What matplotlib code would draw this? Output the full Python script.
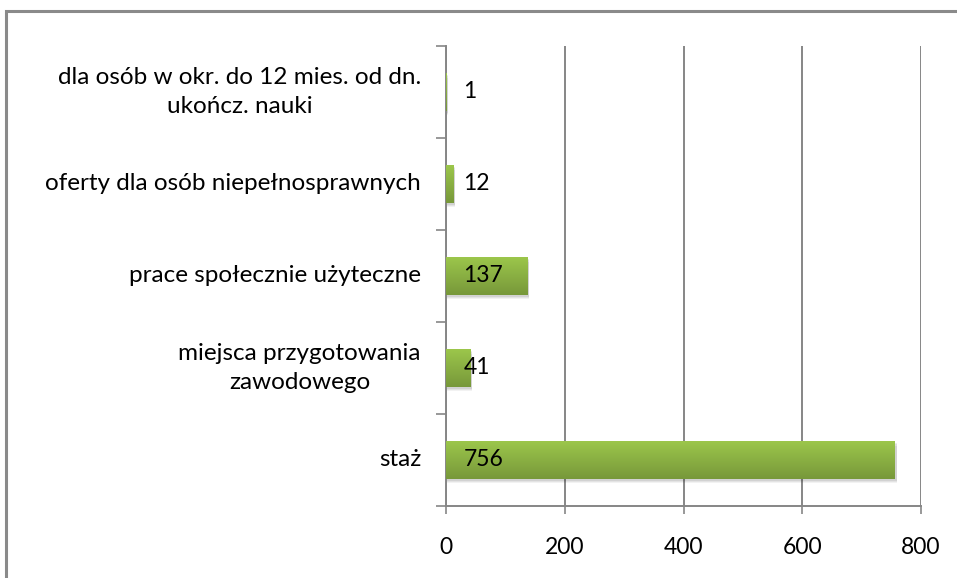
import matplotlib
matplotlib.use("Agg")
import matplotlib.pyplot as plt
import numpy as np
from matplotlib.patches import Rectangle
from matplotlib.colors import LinearSegmentedColormap

categories = [
    "staż",
    "miejsca przygotowania\nzawodowego",
    "prace społecznie użyteczne",
    "oferty dla osób niepełnosprawnych",
    "dla osób w okr. do 12 mies. od dn.\nukończ. nauki",
]
values = [756, 41, 137, 12, 1]
xticks = [0, 200, 400, 600, 800]

plt.rcParams['font.family'] = ['Lato', 'DejaVu Sans']

W, H = 957, 578
fig = plt.figure(figsize=(W / 100, H / 100), dpi=100)
ax = fig.add_axes([446 / W, 1 - 506 / H, (921 - 446) / W, (506 - 46) / H])

grid_c = "#868686"
ypos = np.arange(len(categories))
bars = ax.barh(ypos, values, height=0.41, color="#8cb545", zorder=3, linewidth=0)

# gradient fill and soft shadow
cmap = LinearSegmentedColormap.from_list("g", ["#9cc64b", "#77983a"])
grad = np.linspace(0, 1, 100).reshape(-1, 1)
for b in bars:
    x0, y0, w, h = b.get_x(), b.get_y(), b.get_width(), b.get_height()
    for k, a in zip([0.05, 0.035, 0.02], [0.05, 0.06, 0.07]):
        sh = Rectangle((x0 + 1.5, y0 - k), w + 1.5, h, facecolor="#000000", alpha=a,
                       zorder=2, linewidth=0)
        ax.add_patch(sh)
    im = ax.imshow(grad, extent=(x0, x0 + w, y0, y0 + h), origin="upper",
                   cmap=cmap, aspect="auto", zorder=4)
    im.set_clip_path(b)
ax.set_xlim(0, 800)
ax.set_ylim(-0.5, len(categories) - 0.5)

for b, v in zip(bars, values):
    ax.annotate(str(v), xy=(0, b.get_y() + b.get_height() / 2), xytext=(12.5, 0),
                textcoords="offset points", va="center", ha="left",
                fontsize=16.5, color="black", zorder=6)

# gridlines
ax.set_xticks(xticks)
ax.set_xticklabels([str(t) for t in xticks], fontsize=16.5)
ax.xaxis.grid(True, color=grid_c, linewidth=1.4, zorder=1)
ax.set_axisbelow(True)

ax.set_yticks(ypos)
ax.set_yticklabels(categories, fontsize=17.5, multialignment="center", linespacing=1.45,
                   va="center")
ax.set_yticks(np.arange(-0.5, len(categories)), minor=True)
ax.tick_params(axis="y", which="major", length=0, pad=18)
ax.tick_params(axis="y", which="minor", length=7, color=grid_c, width=1.2)
ax.tick_params(axis="x", length=6, color=grid_c, width=1.2, pad=16)

for s in ["top", "right"]:
    ax.spines[s].set_visible(False)
for s in ["left", "bottom"]:
    ax.spines[s].set_color(grid_c)
    ax.spines[s].set_linewidth(1.4)

# chart frame
frame = Rectangle((6 / W, -0.1), 1.2, 1 - 11 / H + 0.1, transform=fig.transFigure,
                  fill=False, edgecolor="#8a8a8a", linewidth=2.2, clip_on=False)
fig.patches.append(frame)

fig.savefig("out.png", dpi=100)
